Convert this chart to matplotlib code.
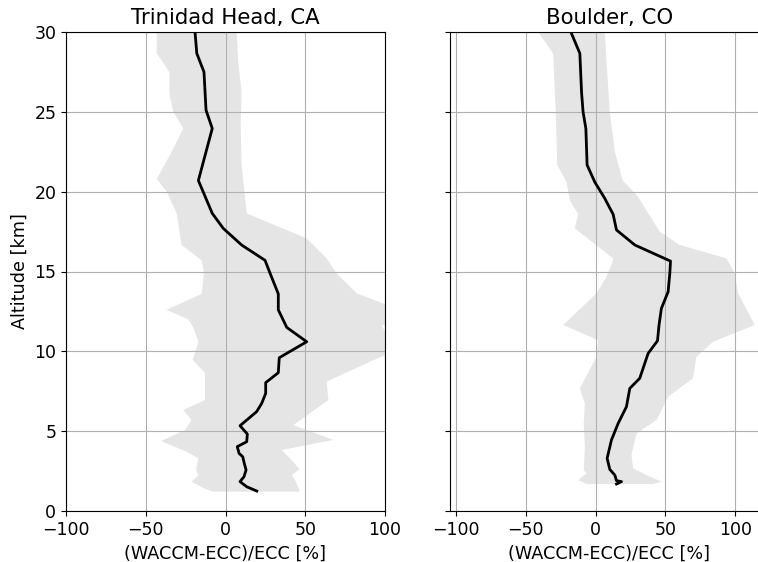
import numpy as np
import matplotlib
matplotlib.use('Agg')
import matplotlib.pyplot as plt

# Trinidad Head, CA -- mean profile
th_alt = [1.25, 1.52, 1.84, 2.15, 2.57, 2.98, 3.4, 3.61, 4.03, 4.34, 4.82, 5.34,
          6.22, 6.74, 7.37, 8.04, 8.66, 9.6, 10.6, 11.5, 12.6, 13.6, 14.9, 15.7,
          16.66, 17.7, 18.64, 20.7, 23.96, 25.1, 27.5, 28.66, 30.0]
th_mean = [19.6, 13.3, 9.1, 11.6, 12.9, 11.8, 10.8, 8.5, 7.4, 13.3, 13.7, 9.1,
           19.5, 22.7, 25.2, 25.2, 33.1, 33.7, 50.9, 38.4, 33.1, 33.1, 27.9, 24.8,
           10.1, -1.4, -8.3, -17.0, -8.3, -12.2, -13.5, -18.0, -19.1]
# spread envelope, left and right edges
th_lo_alt = [1.21, 1.42, 1.84, 2.25, 2.57, 3.3, 3.71, 4.38, 5.07, 5.7, 6.32, 6.95,
             8.66, 9.45, 10.6, 11.5, 12.0, 12.6, 13.6, 14.9, 15.7, 16.66, 18.64,
             20.0, 20.8, 22.5, 23.96, 25.0, 26.15, 27.5, 28.66, 30.0]
th_lo = [-7.6, -13.5, -21.2, -17.0, -18.5, -17.0, -24.3, -40.4, -25.4, -21.2, -26.5,
         -12.9, -12.9, -20.6, -17.0, -20.2, -23.3, -36.9, -14.9, -13.5, -14.9, -27.5,
         -30.6, -36.9, -43.1, -33.7, -26.5, -32.7, -35.2, -35.2, -43.1, -43.1]
th_hi_alt = [1.21, 1.31, 1.94, 2.25, 2.61, 3.09, 3.82, 4.45, 5.38, 6.95, 8.1, 9.45,
             10.0, 10.6, 11.6, 11.9, 12.8, 13.63, 14.88, 15.82, 17.07, 18.64, 21.67,
             24.17, 26.26, 28.1, 30.0]
th_hi = [46.3, 46.3, 43.6, 41.5, 46.3, 42.5, 35.2, 67.6, 42.5, 64.5, 63.4, 92.7,
         106.0, 104.0, 98.0, 106.0, 104.0, 82.3, 69.7, 63.4, 50.9, 13.3, 10.1,
         9.5, 10.1, 8.0, 7.0]

# Boulder, CO -- mean profile
bo_alt = [1.69, 1.84, 1.9, 2.25, 2.61, 3.3, 4.45, 5.49, 6.53, 7.68, 8.31, 9.87,
          10.66, 11.65, 12.69, 13.73, 14.88, 15.65, 16.66, 17.6, 18.58, 19.58,
          20.6, 21.67, 23.96, 25.0, 26.26, 28.66, 30.0]
bo_mean = [15.0, 18.6, 15.0, 13.8, 10.2, 8.3, 11.4, 16.2, 22.1, 24.5, 31.6, 37.6,
           44.3, 45.4, 47.1, 51.9, 53.1, 53.6, 28.1, 15.0, 12.6, 6.6, -0.5, -6.0,
           -6.9, -8.9, -10.0, -11.2, -17.6]
bo_lo_alt = [1.69, 1.94, 2.36, 2.57, 4.03, 5.49, 6.74, 7.68, 9.66, 10.7, 11.65,
             13.63, 14.67, 15.7, 15.82, 17.7, 18.58, 19.47, 20.6, 21.67, 25.0,
             28.66, 30.0]
bo_lo = [-6.4, -12.4, -6.4, -8.4, -7.6, -8.4, -7.6, -11.2, 0.7, 1.9, -23.1, 0.7,
         7.9, 12.6, 12.6, -14.8, -12.4, -18.4, -20.7, -27.4, -28.4, -30.3, -41.0]
bo_hi_alt = [1.69, 1.84, 2.25, 2.67, 3.51, 4.86, 5.7, 7.16, 8.31, 9.66, 10.6,
             11.65, 13.63, 14.88, 15.82, 16.66, 17.49, 19.68, 20.73, 22.5, 25.0,
             28.1, 30.0]
bo_hi = [41.1, 47.1, 36.4, 26.9, 25.7, 29.3, 43.6, 51.9, 69.7, 72.1, 84.0, 113.8,
         101.9, 99.5, 93.6, 60.2, 45.9, 30.4, 19.3, 13.8, 10.2, 7.9, 6.6]

sites = [
    ('Trinidad Head, CA', th_alt, th_mean, th_lo_alt, th_lo, th_hi_alt, th_hi),
    ('Boulder, CO', bo_alt, bo_mean, bo_lo_alt, bo_lo, bo_hi_alt, bo_hi),
]

fig = plt.figure(figsize=(7.58, 5.62), dpi=100)
ax1 = fig.add_axes([66 / 758, 51 / 562, 319 / 758, 479 / 562])
ax2 = fig.add_axes([450 / 758, 51 / 562, 319 / 758, 479 / 562], sharey=ax1)

for ax, (name, alt, mean, lo_alt, lo, hi_alt, hi) in zip([ax1, ax2], sites):
    # envelope polygon: left edge upward, right edge back down
    px = np.concatenate([lo, hi[::-1]])
    py = np.concatenate([lo_alt, hi_alt[::-1]])
    ax.fill(px, py, color='#e5e5e5', lw=0)
    ax.plot(mean, alt, color='k', lw=2)
    ax.grid(True, color='#b0b0b0', lw=0.8)
    ax.set_title(name, fontsize=15.3)
    ax.set_xlabel('(WACCM-ECC)/ECC [%]', fontsize=12.7)
    ax.set_xticks([-100, -50, 0, 50, 100])
    ax.tick_params(labelsize=12.5)

ax1.set_xlim(-100, 100)
ax2.set_xlim(-104, 124)
ax1.set_ylim(0, 30)
ax1.set_yticks(range(0, 31, 5))
ax1.set_ylabel('Altitude [km]', fontsize=12.7)
plt.setp(ax2.get_yticklabels(), visible=False)

fig.savefig('out.png', dpi=100)
